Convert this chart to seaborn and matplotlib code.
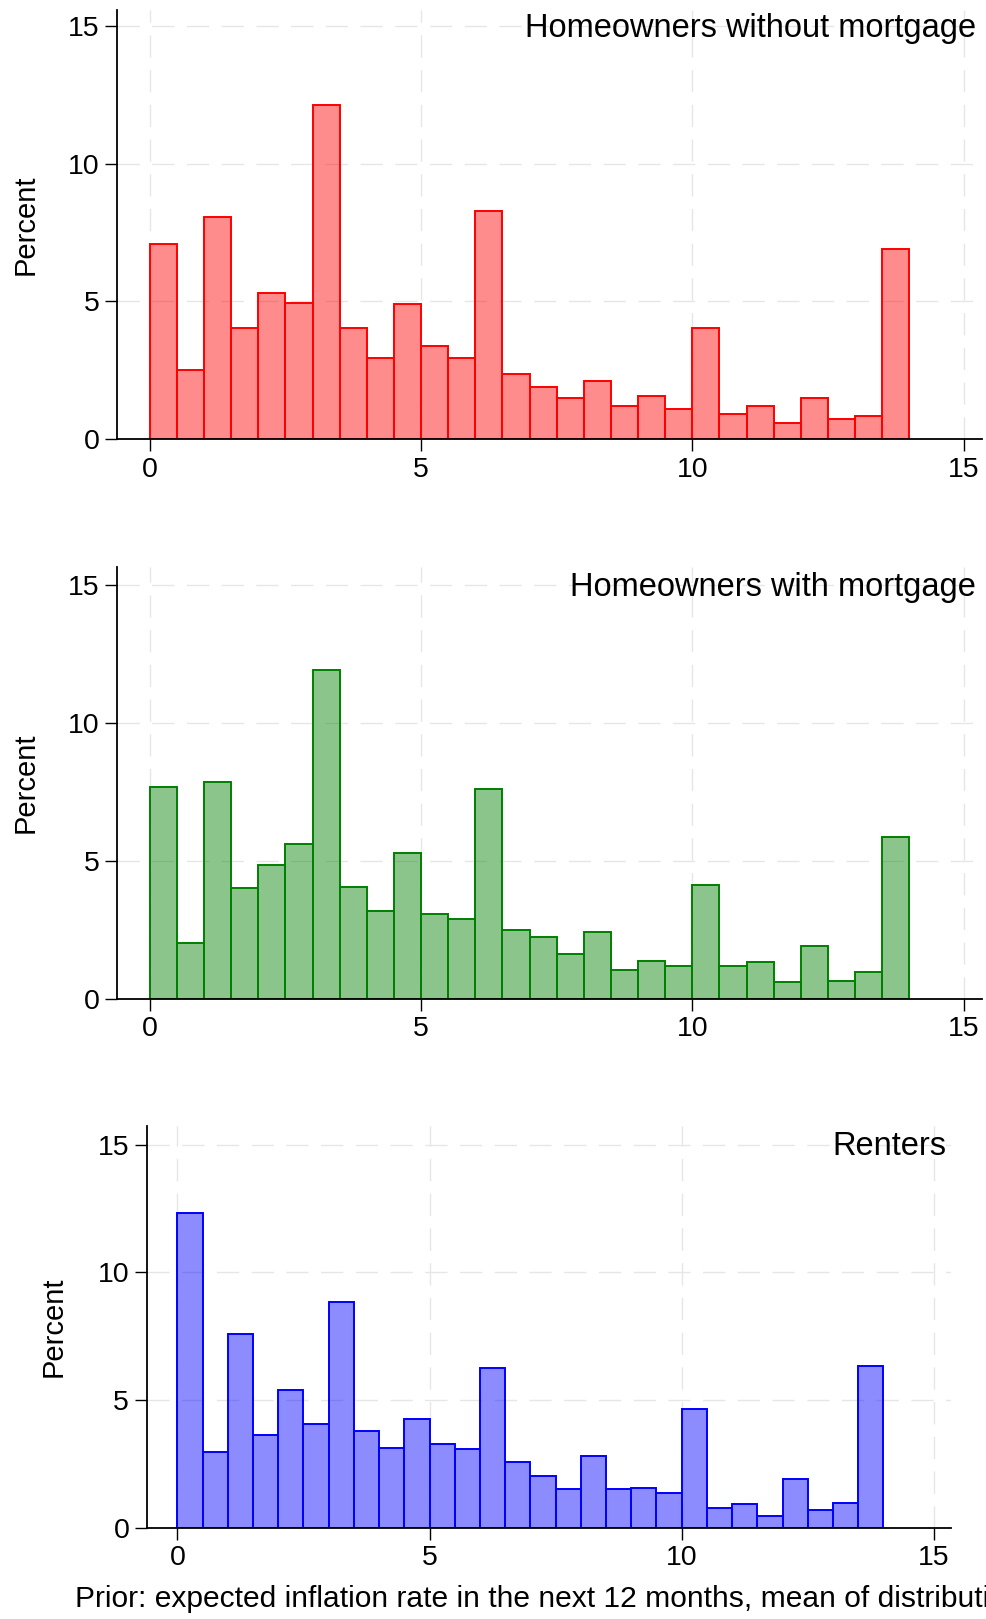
import numpy as np
import pandas as pd
import matplotlib
matplotlib.use("Agg")
import matplotlib.pyplot as plt
import seaborn as sns
from matplotlib.colors import to_rgba

# histogram bins: width 0.5 from 0 to 14
bin_edges = [i * 0.5 for i in range(29)]
bin_mids = [e + 0.25 for e in bin_edges[:-1]]

# percent of respondents per bin
no_mortgage = [7.09, 2.53, 8.06, 4.02, 5.32, 4.96, 12.14, 4.02, 2.93, 4.92,
               3.40, 2.93, 8.30, 2.37, 1.91, 1.51, 2.13, 1.22, 1.58, 1.11,
               4.02, 0.93, 1.19, 0.60, 1.51, 0.75, 0.86, 6.90]
with_mortgage = [7.67, 2.04, 7.87, 4.03, 4.87, 5.63, 11.90, 4.06, 3.19, 5.27,
                 3.09, 2.90, 7.61, 2.48, 2.23, 1.64, 2.44, 1.03, 1.38, 1.21,
                 4.11, 1.21, 1.32, 0.62, 1.90, 0.65, 0.99, 5.88]
renters = [12.33, 2.97, 7.58, 3.63, 5.41, 4.06, 8.86, 3.81, 3.14, 4.25,
           3.30, 3.08, 6.27, 2.58, 2.05, 1.54, 2.83, 1.54, 1.57, 1.38,
           4.67, 0.80, 0.93, 0.46, 1.93, 0.69, 0.99, 6.35]

groups = ["Homeowners without mortgage", "Homeowners with mortgage", "Renters"]
colors = ["red", "green", "blue"]
xlabel = "Prior: expected inflation rate in the next 12 months, mean of distribution"

sns.set_theme(style="white")
plt.rcParams['font.family'] = ['Liberation Sans', 'DejaVu Sans']
plt.rcParams['text.color'] = 'black'
plt.rcParams['axes.labelcolor'] = 'black'
plt.rcParams['xtick.color'] = 'black'
plt.rcParams['ytick.color'] = 'black'

fig = plt.figure(figsize=(9.86, 16.19), dpi=100)
# [left, bottom, width, height] in figure fractions
boxes = [[0.1184, 0.7287, 0.8776, 0.2652],
         [0.1184, 0.3830, 0.8776, 0.2668],
         [0.1487, 0.0562, 0.8158, 0.2483]]
ylims = [15.58, 15.65, 15.73]
title_y = [0.993, 0.988, 0.988]
title_x = [0.993, 0.993, 0.9938]
ylab_x = [-0.0895, -0.0895, -0.098]

for i, vals in enumerate([no_mortgage, with_mortgage, renters]):
    df = pd.DataFrame({"mid": bin_mids, "pct": vals})
    ax = fig.add_axes(boxes[i])
    ax.set_axisbelow(True)
    ax.grid(True, color="#e6e6e6", linewidth=1.0, linestyle=(0, (16, 9)))
    sns.histplot(data=df, x="mid", weights="pct", bins=bin_edges, stat="count",
                 facecolor=to_rgba(colors[i], 0.45), edgecolor=colors[i],
                 linewidth=1.4, ax=ax)
    ax.set_xlim(-0.61, 15.34)
    ax.set_ylim(0, ylims[i])
    ax.set_xticks([0, 5, 10, 15])
    ax.set_yticks([0, 5, 10, 15])
    ax.tick_params(axis="both", labelsize=20.5, length=8.5, width=1.0,
                   direction="out", color="black", labelcolor="black",
                   pad=4, left=True, bottom=True)
    for side in ["top", "right"]:
        ax.spines[side].set_visible(False)
    for side in ["left", "bottom"]:
        ax.spines[side].set_color("black")
        ax.spines[side].set_linewidth(1.3)
    ax.set_ylabel("Percent", fontsize=21, color="black")
    ax.yaxis.set_label_coords(ylab_x[i], 0.5)
    ax.text(title_x[i], title_y[i], groups[i], transform=ax.transAxes,
            ha="right", va="top", fontsize=23.5, color="black")
    if i == 2:
        # the long label runs past the right edge, as in the original figure
        ax.set_xlabel(xlabel, fontsize=21.6, labelpad=10, color="black")
    else:
        ax.set_xlabel("")

fig.savefig("out.png", dpi=100)
